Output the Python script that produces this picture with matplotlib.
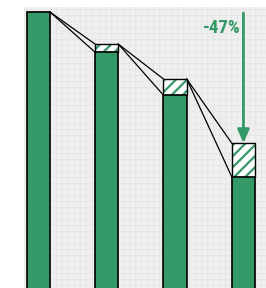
import matplotlib.pyplot as plt
from matplotlib.ticker import MultipleLocator
from matplotlib import font_manager

# bar values (index, first bar = 100)
solid = [100, 85.6, 70.2, 40.9]
total = [100, 88.5, 76.0, 53.0]
change_label = "-47%"

green = "#339966"
x = list(range(len(solid)))
w = 0.34

plt.rcParams["hatch.linewidth"] = 1.6
plt.rcParams["hatch.color"] = green

names = {f.name for f in font_manager.fontManager.ttflist}
narrow = [n for n in ["Liberation Sans Narrow", "DejaVu Sans Condensed",
                      "Roboto Condensed", "Open Sans Condensed"] if n in names]
label_font = narrow + ["DejaVu Sans"]

fig = plt.figure(figsize=(2.66, 2.88), dpi=100)
ax = fig.add_axes([24 / 266, 0, 242 / 266, 281 / 288])
ax.set_facecolor("#efefef")
ax.set_xlim(-0.21, 3.33)
ax.set_ylim(1.1, 101.8)

# fine background grid
ax.xaxis.set_minor_locator(MultipleLocator(0.088))
ax.yaxis.set_minor_locator(MultipleLocator(2.15))
ax.grid(which="minor", color="#e6e6e6", linewidth=0.6)
ax.set_axisbelow(True)
ax.tick_params(which="both", length=0, labelleft=False, labelbottom=False)
for s in ax.spines.values():
    s.set_visible(False)

# hatched part on top of the solid part
extra = [t - s for s, t in zip(solid, total)]
ax.bar(x, extra, w, bottom=solid, color="white", edgecolor=green,
       hatch="///", linewidth=0, zorder=2)
ax.bar(x, extra, w, bottom=solid, color="none", edgecolor="black",
       linewidth=1.0, zorder=3)
ax.bar(x, solid, w, color=green, edgecolor="black", linewidth=1.2, zorder=3)

# connector lines between bars
for i in range(len(x) - 1):
    ax.plot([x[i] + w / 2, x[i + 1] - w / 2], [total[i], total[i + 1]],
            color="black", linewidth=0.9, zorder=1)
    ax.plot([x[i] + w / 2, x[i + 1] - w / 2], [total[i], solid[i + 1]],
            color="black", linewidth=0.9, zorder=1)

# change arrow
ax.annotate("", xy=(x[-1], total[-1]), xytext=(x[-1], total[0] - 0.4),
            arrowprops=dict(arrowstyle="-|>,head_length=0.8,head_width=0.35",
                            color=green, linewidth=2, shrinkA=0, shrinkB=0),
            zorder=4)
ax.text(x[-1] - 0.04, 94.2, change_label, color=green, fontsize=13.5,
        fontweight="bold", fontstretch="condensed", family=label_font,
        ha="right", va="center", zorder=4)

fig.savefig("out.png", dpi=100)
